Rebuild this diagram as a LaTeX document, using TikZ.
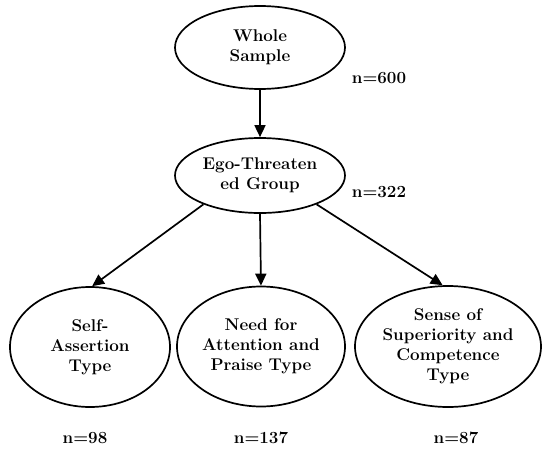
\documentclass[tikz,border=0pt]{standalone}
\usetikzlibrary{shapes.geometric,arrows.meta}
\begin{document}
\begin{tikzpicture}[x=1pt,y=-1pt,
  oval/.style={draw=black,line width=1.7pt,ellipse,inner sep=0pt,align=center,
    font=\bfseries\fontsize{17}{20}\selectfont},
  count/.style={font=\bfseries\fontsize{17}{20}\selectfont},
  link/.style={line width=1.7pt,-{Triangle[length=12pt,width=11pt]}}]
\useasboundingbox (0,0) rectangle (550,456);
\node[oval,minimum width=170pt,minimum height=83pt] (ws) at (260,47.5) {Whole\\Sample};
\node[oval,minimum width=170pt,minimum height=75pt] (ego) at (260,175.5) {Ego-Threaten\\ed Group};
\node[oval,minimum width=160pt,minimum height=120pt] (sa) at (90,347) {Self-\\Assertion\\Type};
\node[oval,minimum width=168pt,minimum height=120pt] (np) at (261,346.5) {Need for\\Attention and\\Praise Type};
\node[oval,minimum width=186pt,minimum height=121pt] (ss) at (448,346.5) {Sense of\\Superiority and\\Competence\\Type};
\node[count] (n600) at (379,78) {n=600};
\node[count] (n322) at (379,192) {n=322};
\node[count] (n98) at (85,438) {n=98};
\node[count] (n137) at (261,438) {n=137};
\node[count] (n87) at (456,438) {n=87};
\draw[link] (ws.south) -- (ego.north);
\draw[link] (ego.-153) -- (sa.88);
\draw[link] (ego.south) -- (np.north);
\draw[link] (ego.-27) -- (ss.95);
\end{tikzpicture}
\end{document}
